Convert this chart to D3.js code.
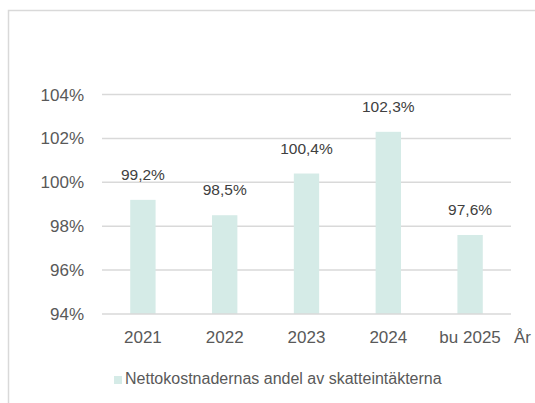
<!DOCTYPE html>
<html><head><meta charset="utf-8">
<script src="https://cdn.jsdelivr.net/npm/d3@7"></script>
<style>
html,body{margin:0;padding:0;background:#fff;}
svg{display:block;font-family:"Liberation Sans",Arial,sans-serif;}
</style></head>
<body>
<svg id="chart" width="535" height="403"></svg>
<script>
const categories = ["2021", "2022", "2023", "2024", "bu 2025"];
const values = [99.2, 98.5, 100.4, 102.3, 97.6];
const valueLabels = ["99,2%", "98,5%", "100,4%", "102,3%", "97,6%"];
const yTicks = [94, 96, 98, 100, 102, 104];
const yTickLabels = ["94%", "96%", "98%", "100%", "102%", "104%"];
const seriesName = "Nettokostnadernas andel av skatteintäkterna";
const axisTitle = "År";

const svg = d3.select("#chart");
const textColor = "#595959";
const gridColor = "#d9d9d9";
const barColor = "#d5ebe7";

// outer border (extends past right/bottom edges)
svg.append("rect").attr("x", 8.5).attr("y", 10.5).attr("width", 560).attr("height", 420)
  .attr("fill", "none").attr("stroke", gridColor).attr("stroke-width", 1.5);

const x = d3.scaleBand().domain(categories).range([102, 511]).paddingInner(0.69).paddingOuter(0.345);
const y = d3.scaleLinear().domain([94, 104]).range([314, 94.5]);

// gridlines
svg.append("g").selectAll("line").data(yTicks.filter(d => d !== 94)).join("line")
  .attr("x1", 102).attr("x2", 511)
  .attr("y1", d => y(d)).attr("y2", d => y(d))
  .attr("stroke", gridColor).attr("stroke-width", 1.5);

// y tick labels
svg.append("g").selectAll("text").data(yTicks).join("text")
  .attr("x", 84).attr("y", d => y(d) + 6)
  .attr("text-anchor", "end").attr("font-size", 17).attr("fill", textColor)
  .text((d, i) => yTickLabels[i]);

// bars
svg.append("g").selectAll("rect").data(values).join("rect")
  .attr("x", (d, i) => x(categories[i]))
  .attr("width", x.bandwidth())
  .attr("y", d => y(d))
  .attr("height", d => y(94) - y(d))
  .attr("fill", barColor);

// x axis line
svg.append("line").attr("x1", 102).attr("x2", 511).attr("y1", y(94)).attr("y2", y(94))
  .attr("stroke", gridColor).attr("stroke-width", 1.5);

// data labels
svg.append("g").selectAll("text").data(values).join("text")
  .attr("x", (d, i) => x(categories[i]) + x.bandwidth() / 2)
  .attr("y", d => y(d) - 20)
  .attr("text-anchor", "middle").attr("font-size", 15.5).attr("fill", "#404040")
  .text((d, i) => valueLabels[i]);

// category labels
svg.append("g").selectAll("text").data(categories).join("text")
  .attr("x", d => x(d) + x.bandwidth() / 2)
  .attr("y", 342.5)
  .attr("text-anchor", "middle").attr("font-size", 17).attr("fill", textColor)
  .text(d => d);

// axis title
svg.append("text").attr("x", 514).attr("y", 342.5).attr("font-size", 17).attr("fill", textColor).text(axisTitle);

// legend
svg.append("rect").attr("x", 114).attr("y", 376).attr("width", 8).attr("height", 8).attr("fill", barColor);
svg.append("text").attr("x", 125).attr("y", 384).attr("font-size", 16).attr("fill", textColor).text(seriesName);
</script>
</body></html>
